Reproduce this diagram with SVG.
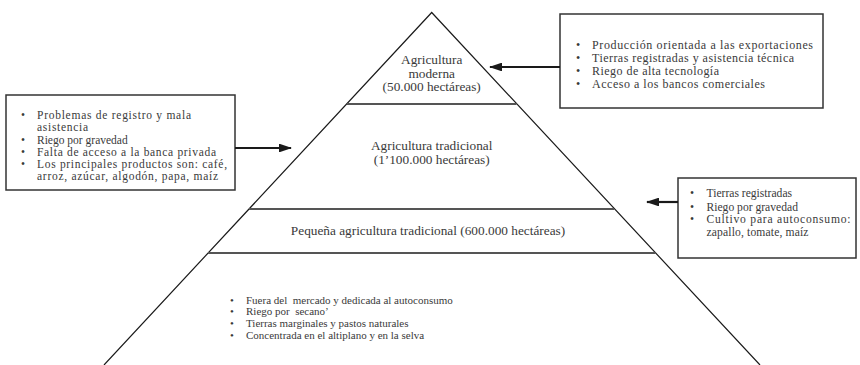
<svg xmlns="http://www.w3.org/2000/svg" width="860" height="365" viewBox="0 0 860 365" font-family="'Liberation Serif', 'Times New Roman', serif">
<style>
  text { font-family: 'Liberation Serif', 'Times New Roman', serif; fill: #3a3a3a; }
  .lbl { font-size: 13.3px; text-anchor: middle; }
  .tr { font-size: 12px; }
  .lb { font-size: 11.5px; }
  .rb { font-size: 11.6px; }
  .small { font-size: 11px; white-space: pre; }
  .frame { fill: #fff; stroke: #333; stroke-width: 1.5; }
  .edge { stroke: #1a1a1a; stroke-width: 1.2; fill: none; }
  .band { stroke: #555; stroke-width: 1.8; fill: none; }
  .arrow { stroke: #1a1a1a; stroke-width: 2.2; fill: none; marker-end: url(#ah); }
</style>
<defs>
  <marker id="ah" markerWidth="6" markerHeight="4" refX="5.5" refY="2" orient="auto" markerUnits="strokeWidth">
    <path d="M0,0 L6,2 L0,4 Z" fill="#1a1a1a"/>
  </marker>
</defs>
<rect width="860" height="365" fill="#fff"/>

<g id="pyramid">
  <path class="edge" d="M104,365 L431.7,12.5 L760,365"/>
  <line class="band" x1="347" y1="104" x2="516.5" y2="104"/>
  <line class="band" x1="249" y1="209" x2="614" y2="209"/>
  <line class="band" x1="208" y1="253" x2="655.5" y2="253"/>
</g>

<g id="tier-moderna">
  <text class="lbl" x="431.7" y="64">Agricultura</text>
  <text class="lbl" x="431.7" y="77.5">moderna</text>
  <text class="lbl" x="431.7" y="91">(50.000 hectáreas)</text>
</g>

<g id="tier-tradicional">
  <text class="lbl" x="431.7" y="149.5">Agricultura tradicional</text>
  <text class="lbl" x="431.7" y="163.5">(1’100.000 hectáreas)</text>
</g>

<g id="tier-pequena">
  <text class="lbl" x="428" y="234.5">Pequeña agricultura tradicional (600.000 hectáreas)</text>
</g>

<g id="tier-base">
  <text class="small" x="230" y="303.5">•</text>
  <text class="small" x="246" y="303.5">Fuera del  mercado y dedicada al autoconsumo</text>
  <text class="small" x="230" y="315">•</text>
  <text class="small" x="246" y="315">Riego por  secano’</text>
  <text class="small" x="230" y="326.5">•</text>
  <text class="small" x="246" y="326.5">Tierras marginales y pastos naturales</text>
  <text class="small" x="230" y="338.5">•</text>
  <text class="small" x="246" y="338.5">Concentrada en el altiplano y en la selva</text>
</g>

<g id="box-moderna">
  <rect class="frame" x="560" y="14" width="263" height="94"/>
  <text class="tr" x="576" y="48.5">•</text>
  <text class="tr" x="592" y="48.5" textLength="221">Producción orientada a las exportaciones</text>
  <text class="tr" x="576" y="61.5">•</text>
  <text class="tr" x="592" y="61.5" textLength="202">Tierras registradas y asistencia técnica</text>
  <text class="tr" x="576" y="74.5">•</text>
  <text class="tr" x="592" y="74.5" textLength="127">Riego de alta tecnología</text>
  <text class="tr" x="576" y="87.5">•</text>
  <text class="tr" x="592" y="87.5" textLength="173">Acceso a los bancos comerciales</text>
</g>

<g id="box-tradicional">
  <rect class="frame" x="6" y="95" width="229" height="95"/>
  <text class="lb" x="21" y="119">•</text>
  <text class="lb" x="37" y="119" textLength="154">Problemas de registro y mala</text>
  <text class="lb" x="37" y="131" textLength="51">asistencia</text>
  <text class="lb" x="21" y="143.5">•</text>
  <text class="lb" x="37" y="143.5">Riego por gravedad</text>
  <text class="lb" x="21" y="155.5">•</text>
  <text class="lb" x="37" y="155.5" textLength="179">Falta de acceso a la banca privada</text>
  <text class="lb" x="21" y="167.5">•</text>
  <text class="lb" x="37" y="167.5" textLength="190">Los principales productos son: café,</text>
  <text class="lb" x="37" y="179.5" textLength="181">arroz, azúcar, algodón, papa, maíz</text>
</g>

<g id="box-pequena">
  <rect class="frame" x="678" y="178" width="178" height="80"/>
  <text class="rb" x="690" y="196.5">•</text>
  <text class="rb" x="706.5" y="196.5">Tierras registradas</text>
  <text class="rb" x="690" y="210.5">•</text>
  <text class="rb" x="706.5" y="210.5">Riego por gravedad</text>
  <text class="rb" x="690" y="223">•</text>
  <text class="rb" x="706.5" y="223" textLength="144">Cultivo para autoconsumo:</text>
  <text class="rb" x="706.5" y="235.8" textLength="102">zapallo, tomate, maíz</text>
</g>

<g id="connectors">
  <line class="arrow" x1="560" y1="67" x2="490" y2="67"/>
  <line class="arrow" x1="235" y1="148" x2="291" y2="148"/>
  <line class="arrow" x1="678" y1="202" x2="647" y2="202"/>
</g>
</svg>
